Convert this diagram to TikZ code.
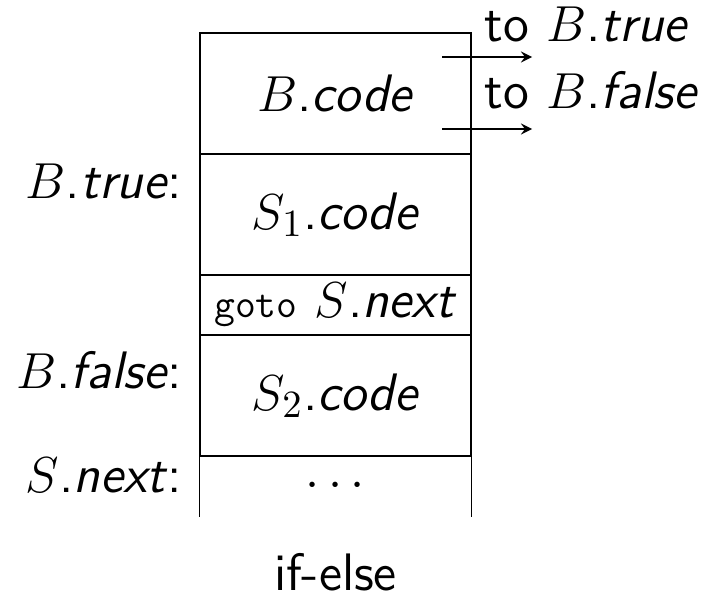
\documentclass[tikz,border=0pt]{standalone}
\begin{document}
\begin{tikzpicture}[>=stealth, line width=0.4pt, font=\fontsize{15}{18}\selectfont\sffamily]
\tikzset{
  row/.style={
    draw, rectangle, inner sep=0pt,
    minimum width=2.71cm
  },
  tallrow/.style={row, minimum height=1.21cm},
  shortrow/.style={row, minimum height=0.60cm},
  label/.style={anchor=base east, inner sep=0pt},
  tolabel/.style={anchor=base west, inner sep=0pt}
}
\useasboundingbox (0,0) rectangle (7.08,5.97);

% Nodes
\node[tallrow]  (bcode) at (3.355, 5.035) {$B$.\textit{code}};
\node[tallrow]  (sone)  at (3.355, 3.825) {$S_1$.\textit{code}};
\node[shortrow] (jump)  at (3.355, 2.92)  {{\fontsize{11.5}{14}\selectfont\ttfamily goto} $S$.\textit{next}};
\node[tallrow]  (stwo)  at (3.355, 2.015) {$S_2$.\textit{code}};
\node[shortrow, draw=none] (rest) at (3.355, 1.11) {$\cdots$};
\draw (rest.north west) -- (rest.south west)
      (rest.north east) -- (rest.south east);

% Labels on the left
\node[label] (ltrue)  at (1.83, 3.99) {$B$.\textit{true}:};
\node[label] (lfalse) at (1.83, 2.09) {$B$.\textit{false}:};
\node[label] (lnext)  at (1.83, 1.05) {$S$.\textit{next}:};

% Jumps out of B.code
\coordinate (ftrue)  at (4.42, 5.40);
\coordinate (ttrue)  at (5.32, 5.40);
\coordinate (ffalse) at (4.42, 4.68);
\coordinate (tfalse) at (5.32, 4.68);
\draw[->] (ftrue) -- (ttrue);
\draw[->] (ffalse) -- (tfalse);
\node[tolabel] (totrue)  at (4.84, 5.55) {to $B$.\textit{true}};
\node[tolabel] (tofalse) at (4.84, 4.89) {to $B$.\textit{false}};

\node[anchor=base] (title) at (3.355, 0.07) {if-else};

\end{tikzpicture}
\end{document}
